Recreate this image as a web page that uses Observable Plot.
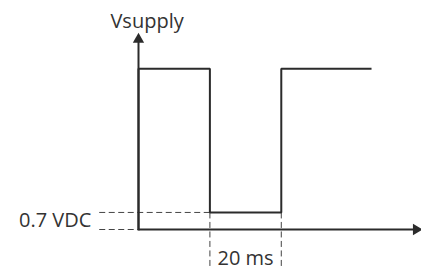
<!DOCTYPE html>
<html>
<head>
<meta charset="utf-8">
<script src="https://cdn.jsdelivr.net/npm/d3@7"></script>
<script src="https://cdn.jsdelivr.net/npm/@observablehq/plot@0.6"></script>
<style>
  html, body { margin: 0; padding: 0; background: #fff; }
  #chart svg { display: block; }
</style>
</head>
<body>
<div id="chart"></div>
<script>
// Waveform: time (ms) vs supply voltage (V)
const times = [0, 0, 20, 20, 40, 40, 65];
const volts = [0, 6.6, 6.6, 0.7, 0.7, 6.6, 6.6];

// Axis extents (data units)
const timeMax = 79;
const voltMax = 8;

// Reference levels / markers
const dipLevel = 0.7;
const dipStart = 20;
const dipEnd = 40;
const dashLeft = -11;
const dashBottom = -1.5;

// Labels
const labelTexts = ["Vsupply", "0.7 VDC", "20 ms"];
const labelTimes = [2.4, -13.2, 30];
const labelVolts = [8.55, 0.37, -1.2];
const labelAnchors = ["middle", "end", "middle"];

const wave = times.map((t, i) => ({t, v: volts[i]}));
const labels = labelTexts.map((s, i) => ({s, t: labelTimes[i], v: labelVolts[i], a: labelAnchors[i]}));

const dashes = [
  {x1: dashLeft, y1: dipLevel, x2: dipStart, y2: dipLevel},
  {x1: dashLeft, y1: 0, x2: 0, y2: 0},
  {x1: dipStart, y1: dipLevel, x2: dipStart, y2: dashBottom},
  {x1: dipEnd, y1: dipLevel, x2: dipEnd, y2: dashBottom}
];
const axes = [
  {x1: 0, y1: 0, x2: timeMax - 1.5, y2: 0},
  {x1: 0, y1: 0, x2: 0, y2: voltMax - 0.3}
];
const heads = [
  {t: timeMax - 1.2, v: 0, r: 90},
  {t: 0, v: voltMax - 0.2, r: 0}
];

const ink = "#2b2b2b";
const font = "'Open Sans', sans-serif";
const textStyle = {x: "t", y: "v", text: "s", fontSize: 20, fill: "#333", fontWeight: 400};

const chart = Plot.plot({
  width: 421,
  height: 273,
  marginLeft: 138,
  marginRight: 1,
  marginTop: 34,
  marginBottom: 44,
  x: {domain: [0, timeMax], axis: null},
  y: {domain: [0, voltMax], axis: null},
  style: {fontFamily: font, background: "#fff", overflow: "visible"},
  marks: [
    Plot.link(dashes, {x1: "x1", y1: "y1", x2: "x2", y2: "y2", stroke: "#444", strokeWidth: 1, strokeDasharray: "6,3.5"}),
    Plot.link(axes, {x1: "x1", y1: "y1", x2: "x2", y2: "y2", stroke: ink, strokeWidth: 2}),
    Plot.dot(heads, {x: "t", y: "v", symbol: "triangle", r: 4.2, fill: ink, stroke: "none", rotate: "r"}),
    Plot.line(wave, {x: "t", y: "v", stroke: ink, strokeWidth: 2, curve: "linear", strokeLinejoin: "miter", strokeLinecap: "square"}),
    Plot.text(labels.filter(d => d.a === "middle"), {...textStyle, textAnchor: "middle"}),
    Plot.text(labels.filter(d => d.a === "end"), {...textStyle, textAnchor: "end"})
  ]
});
document.getElementById("chart").appendChild(chart);
</script>
</body>
</html>
